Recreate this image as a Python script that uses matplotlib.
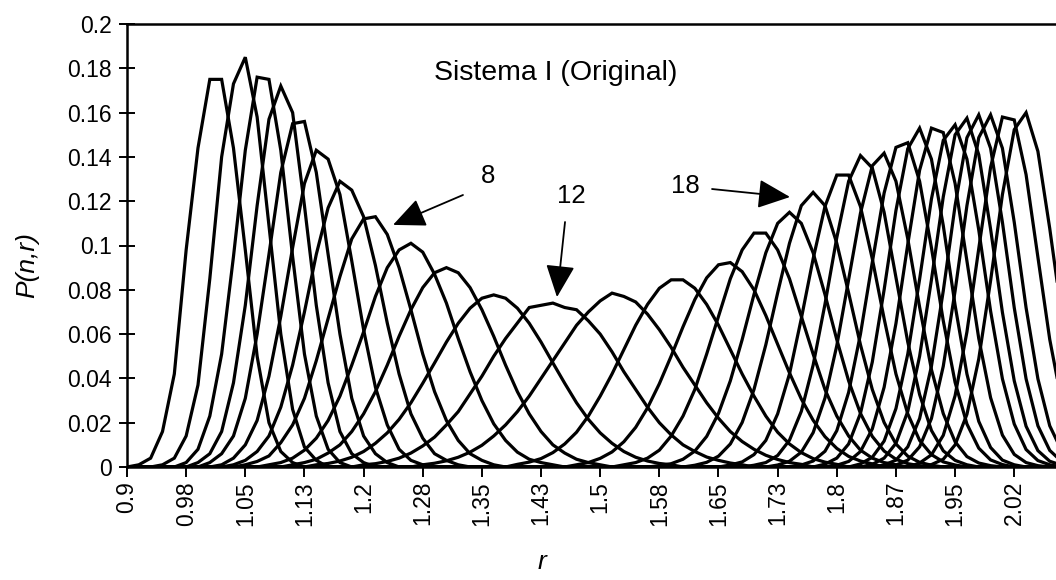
import numpy as np
import matplotlib
matplotlib.use("Agg")
import matplotlib.pyplot as plt

plt.rcParams['font.family'] = ['Liberation Sans', 'DejaVu Sans']

# r grid (step 0.015), 84 points
r = np.round(0.9 + 0.015 * np.arange(84), 3)

xtick_labels = ['0.9', '0.98', '1.05', '1.13', '1.2', '1.28', '1.35', '1.43',
                '1.5', '1.58', '1.65', '1.73', '1.8', '1.87', '1.95', '2.02']

# first grid index of each curve n = 1..30
starts = [1, 3, 5, 6, 7, 8, 9, 10, 12, 14, 16, 20, 25, 33, 38,
          42, 45, 48, 51, 53, 55, 57, 59, 60, 62, 63, 64, 65, 67, 68]

# P(n,r), from the start index onwards
p01 = [0.001, 0.004, 0.016, 0.042, 0.098, 0.144, 0.175, 0.175, 0.144, 0.098, 0.050, 0.020, 0.007, 0.002]
p02 = [0.001, 0.004, 0.014, 0.037, 0.085, 0.140, 0.173, 0.185, 0.158, 0.109, 0.060, 0.026, 0.009, 0.003]
p03 = [0.002, 0.008, 0.023, 0.051, 0.095, 0.143, 0.176, 0.175, 0.143, 0.095, 0.051, 0.023, 0.008, 0.002]
p04 = [0.002, 0.006, 0.016, 0.038, 0.073, 0.118, 0.157, 0.172, 0.160, 0.118, 0.073, 0.038, 0.016, 0.006, 0.002]
p05 = [0.002, 0.006, 0.014, 0.031, 0.060, 0.096, 0.133, 0.155, 0.156, 0.133, 0.096, 0.060, 0.031, 0.014, 0.006, 0.002]
p06 = [0.001, 0.004, 0.010, 0.021, 0.041, 0.068, 0.099, 0.128, 0.143, 0.139, 0.123, 0.093, 0.062, 0.036,
       0.019, 0.008, 0.003, 0.001]
p07 = [0.001, 0.003, 0.007, 0.014, 0.027, 0.046, 0.070, 0.096, 0.117, 0.129, 0.125, 0.113, 0.091, 0.065,
       0.042, 0.024, 0.013, 0.006, 0.003, 0.001]
p08 = [0.001, 0.0025, 0.005, 0.011, 0.019, 0.031, 0.048, 0.067, 0.086, 0.103, 0.112, 0.113, 0.105, 0.090,
       0.071, 0.051, 0.034, 0.021, 0.012, 0.006, 0.003, 0.001]
p09 = [0.001, 0.002, 0.004, 0.0076, 0.013, 0.021, 0.032, 0.046, 0.061, 0.077, 0.090, 0.098, 0.101, 0.097,
       0.087, 0.074, 0.058, 0.043, 0.030, 0.0195, 0.012, 0.0067, 0.0035, 0.002, 0.001]
p10 = [0.001, 0.002, 0.0035, 0.0063, 0.010, 0.016, 0.024, 0.034, 0.046, 0.059, 0.071, 0.081, 0.0877, 0.090,
       0.0877, 0.081, 0.071, 0.059, 0.046, 0.034, 0.024, 0.016, 0.010, 0.0063, 0.0035, 0.002, 0.001]
p11 = [0.001, 0.0016, 0.0027, 0.0044, 0.007, 0.0107, 0.0154, 0.0215, 0.029, 0.0378, 0.047, 0.0564, 0.0649,
       0.0717, 0.0762, 0.0777, 0.0762, 0.0717, 0.0649, 0.0564, 0.047, 0.0378, 0.029, 0.0215, 0.0154,
       0.0107, 0.007, 0.0044, 0.0027, 0.0016, 0.001]
p12 = [0.001, 0.0015, 0.0025, 0.004, 0.0063, 0.0095, 0.0135, 0.019, 0.025, 0.033, 0.041, 0.050, 0.058,
       0.065, 0.072, 0.073, 0.074, 0.072, 0.071, 0.066, 0.060, 0.052, 0.043, 0.035, 0.027, 0.020, 0.0145,
       0.010, 0.007, 0.0045, 0.003, 0.0018, 0.001]
p13 = [0.001, 0.0017, 0.0028, 0.0044, 0.0067, 0.0098, 0.014, 0.019, 0.025, 0.032, 0.040, 0.048, 0.056,
       0.064, 0.070, 0.075, 0.0785, 0.077, 0.0745, 0.069, 0.062, 0.054, 0.045, 0.037, 0.029, 0.022, 0.016,
       0.0115, 0.008, 0.0053, 0.0034, 0.002, 0.0012]
p14 = [0.0012, 0.0022, 0.0038, 0.0065, 0.0104, 0.0157, 0.023, 0.032, 0.042, 0.053, 0.064, 0.0734, 0.0807,
       0.0845, 0.0845, 0.0807, 0.0734, 0.064, 0.053, 0.042, 0.032, 0.023, 0.0157, 0.0104, 0.0065, 0.0038,
       0.0022, 0.0012]
p15 = [0.001, 0.002, 0.0039, 0.0068, 0.0114, 0.0179, 0.0267, 0.0376, 0.0501, 0.0633, 0.0756, 0.0854,
       0.0913, 0.0923, 0.0882, 0.080, 0.0684, 0.0554, 0.0425, 0.0307, 0.0211, 0.0137, 0.0084, 0.0048,
       0.0027, 0.0014]
p16 = [0.001, 0.002, 0.004, 0.0076, 0.014, 0.023, 0.035, 0.051, 0.068, 0.085, 0.098, 0.1056, 0.1056,
       0.098, 0.085, 0.068, 0.051, 0.035, 0.023, 0.014, 0.0076, 0.004, 0.002, 0.001]
p17 = [0.0006, 0.0015, 0.0035, 0.0072, 0.0138, 0.0242, 0.0389, 0.0575, 0.0779, 0.0967, 0.110, 0.115,
       0.110, 0.0967, 0.0779, 0.0575, 0.0389, 0.0242, 0.0138, 0.0072, 0.0035, 0.0015, 0.0006]
p18 = [0.0008, 0.0021, 0.0049, 0.0104, 0.0201, 0.035, 0.0552, 0.0786, 0.101, 0.118, 0.124, 0.118, 0.101,
       0.0786, 0.0552, 0.035, 0.0201, 0.0104, 0.0049, 0.0021, 0.0008]
p19 = [0.0009, 0.0023, 0.0056, 0.012, 0.024, 0.042, 0.067, 0.094, 0.1176, 0.1318, 0.1318, 0.1176, 0.094,
       0.067, 0.042, 0.024, 0.012, 0.0056, 0.0023, 0.0009]
p20 = [0.0008, 0.002, 0.0052, 0.0121, 0.0251, 0.046, 0.0735, 0.1036, 0.129, 0.1406, 0.135, 0.115, 0.0856,
       0.0564, 0.0327, 0.0165, 0.0073, 0.003, 0.001]
p21 = [0.0009, 0.0026, 0.0067, 0.0155, 0.0311, 0.0548, 0.0846, 0.1146, 0.136, 0.1417, 0.129, 0.103,
       0.0722, 0.044, 0.0241, 0.0114, 0.0047, 0.0018, 0.0006]
p22 = [0.0009, 0.0027, 0.0071, 0.0164, 0.0337, 0.060, 0.0924, 0.1237, 0.1443, 0.1464, 0.129, 0.099,
       0.066, 0.0382, 0.0194, 0.0085, 0.0032, 0.0011]
p23 = [0.0013, 0.004, 0.0104, 0.0242, 0.0474, 0.080, 0.1158, 0.1437, 0.153, 0.139, 0.109, 0.073, 0.042,
       0.0206, 0.0088, 0.0031, 0.001]
p24 = [0.0008, 0.0025, 0.007, 0.0172, 0.036, 0.0648, 0.1006, 0.134, 0.153, 0.151, 0.128, 0.093, 0.058,
       0.0313, 0.0144, 0.0057, 0.002, 0.0006]
p25 = [0.0014, 0.0044, 0.0117, 0.0264, 0.051, 0.0848, 0.121, 0.1475, 0.1545, 0.139, 0.107, 0.0704,
       0.0398, 0.0194, 0.0079, 0.0029, 0.001]
p26 = [0.0012, 0.004, 0.0107, 0.0251, 0.050, 0.0845, 0.122, 0.150, 0.1575, 0.141, 0.1074, 0.0698, 0.0389,
       0.0184, 0.0074, 0.0026, 0.0008]
p27 = [0.0009, 0.0031, 0.0091, 0.0219, 0.0455, 0.0795, 0.118, 0.1487, 0.159, 0.1439, 0.1105, 0.0719,
       0.0398, 0.0186, 0.0075, 0.0025, 0.0007]
p28 = [0.0009, 0.0031, 0.0091, 0.0219, 0.0455, 0.0795, 0.118, 0.1487, 0.159, 0.1439, 0.1105, 0.0719,
       0.0398, 0.0186, 0.0075, 0.0025, 0.0007]
p29 = [0.0018, 0.0055, 0.0143, 0.0322, 0.061, 0.0986, 0.1353, 0.158, 0.1567, 0.132, 0.0947, 0.0576,
       0.0297, 0.0132, 0.005, 0.0016]
p30 = [0.0011, 0.0035, 0.010, 0.0238, 0.0488, 0.0841, 0.123, 0.1523, 0.160, 0.1425, 0.1077, 0.069,
       0.0374, 0.0173, 0.0069, 0.0025]

curves = [p01, p02, p03, p04, p05, p06, p07, p08, p09, p10, p11, p12, p13, p14, p15,
          p16, p17, p18, p19, p20, p21, p22, p23, p24, p25, p26, p27, p28, p29, p30]

fig = plt.figure(figsize=(10.56, 5.8), dpi=100)
ax = fig.add_axes([127 / 1056, 113 / 580, 929 / 1056, 443 / 580])

for s, vals in zip(starts, curves):
    y = np.zeros(len(r))
    y[s:s + len(vals)] = vals
    ax.plot(r, y, color='black', lw=2.3, solid_joinstyle='miter')

ax.set_xlim(0.9, 0.9 + 0.015 * 929 / 11.83)
ax.set_ylim(0, 0.2)

ax.set_yticks(np.arange(0, 0.201, 0.02))
ax.set_yticklabels(['0', '0.02', '0.04', '0.06', '0.08', '0.1', '0.12', '0.14', '0.16', '0.18', '0.2'])
ax.set_xticks(0.9 + 0.075 * np.arange(len(xtick_labels)))
ax.set_xticklabels(xtick_labels, rotation=90)
ax.tick_params(axis='y', direction='inout', length=12, width=1.4, labelsize=16.5, pad=5)
ax.tick_params(axis='x', direction='out', length=7, width=1.4, labelsize=16.5, pad=3)

ax.spines['right'].set_visible(False)
for side in ['left', 'bottom', 'top']:
    ax.spines[side].set_linewidth(1.8)

fig.text(27 / 1056, 1 - 265 / 580, 'P(n,r)', rotation=90, ha='center', va='center',
         fontsize=19, style='italic')
fig.text(542 / 1056, 1 - 562 / 580, 'r', ha='center', va='center', fontsize=19, style='italic')

ax.text(1.443, 0.178, 'Sistema I (Original)', ha='center', va='center', fontsize=20.5)

ax.text(1.358, 0.1314, '8', ha='center', va='center', fontsize=18.5)
ax.text(1.464, 0.1223, '12', ha='center', va='center', fontsize=18.5)
ax.text(1.6075, 0.1269, '18', ha='center', va='center', fontsize=18.5)

arrow = dict(arrowstyle='-|>,head_length=1.0,head_width=0.45', mutation_scale=20,
             color='black', lw=1.3, shrinkA=0, shrinkB=0)
ax.annotate('', xy=(1.2373, 0.1093), xytext=(1.326, 0.1228), arrowprops=arrow)
ax.annotate('', xy=(1.4452, 0.0767), xytext=(1.4554, 0.1106), arrowprops=arrow)
ax.annotate('', xy=(1.7407, 0.1219), xytext=(1.6418, 0.1255), arrowprops=arrow)

fig.savefig('out.png', dpi=100)
